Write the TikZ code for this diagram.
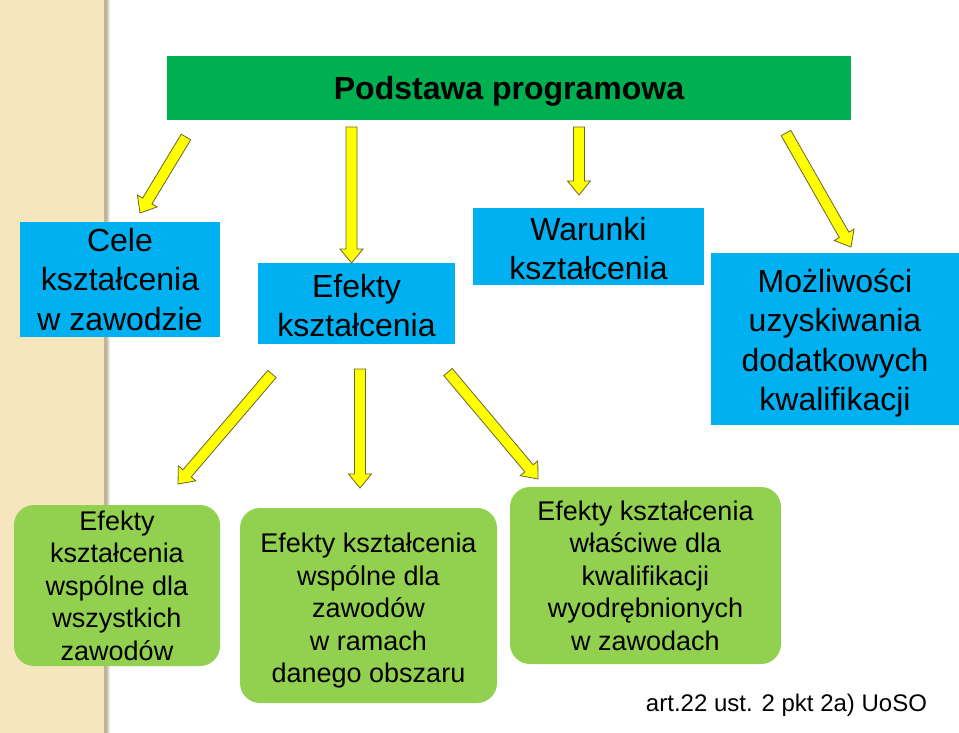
\documentclass[tikz,border=0pt]{standalone}
\usepackage{fontspec}
\setmainfont{Liberation Sans}
\usetikzlibrary{calc}
\definecolor{titlegreen}{RGB}{0,176,80}
\definecolor{boxblue}{RGB}{0,176,240}
\definecolor{boxgreen}{RGB}{146,208,80}
\definecolor{stripcol}{RGB}{246,230,190}
\definecolor{arrowedge}{RGB}{105,100,50}
\definecolor{arrowfill}{RGB}{255,255,0}
\newcommand\blockarrow[2]{%
  \path let \p1=(#1), \p2=(#2), \n1={atan2(\y2-\y1,\x2-\x1)}, \n2={veclen(\x2-\x1,\y2-\y1)} in
    \pgfextra{\pgfmathsetmacro\batmpa{\n1}\global\let\baang\batmpa
              \pgfmathsetmacro\batmpb{\n2}\global\let\balen\batmpb};
  \draw[yarrow, shift={(#1)}, rotate=\baang]
    (0pt,-5.5pt) -- ({\balen pt-14pt},-5.5pt) -- ({\balen pt-14pt},-11.5pt) -- ({\balen pt},0pt)
    -- ({\balen pt-14pt},11.5pt) -- ({\balen pt-14pt},5.5pt) -- (0pt,5.5pt) -- cycle;
}
\newcommand\strutto[1]{\rule{0pt}{#1}}
\tikzset{
  yarrow/.style={fill=arrowfill, draw=arrowedge, line width=0.8pt, line join=miter},
  bluebox/.style={fill=boxblue, inner sep=0pt, align=center, text=black,
    font=\fontsize{32}{39.5}\selectfont},
  greenbox/.style={fill=boxgreen, rounded corners=20pt, inner sep=0pt, align=center, text=black,
    font=\fontsize{27}{32.5}\selectfont},
}
\begin{document}
\begin{tikzpicture}[x=1pt,y=-1pt]
\useasboundingbox (0,0) rectangle (959,733);
\fill[white] (0,0) rectangle (959,733);
% left textured strip
\fill[stripcol] (0,0) rectangle (104,733);
\fill[stripcol!75!black!90] (104,0) rectangle (106.5,733);
\shade[left color=stripcol!60!gray, right color=white] (106.5,0) rectangle (110,733);

% title bar
\node[fill=titlegreen, minimum width=684pt, minimum height=64pt, inner sep=0pt,
  font=\bfseries\fontsize{32}{38}\selectfont, text=black] (title) at (509,88) {\strutto{29.5pt}Podstawa programowa};

% blue boxes
\node[bluebox, minimum width=200pt, minimum height=115pt] (cele) at (120,279.5) {Cele\\kształcenia\\w zawodzie};
\node[bluebox, minimum width=197pt, minimum height=81pt] (efekty) at (356.5,303.5) {\strutto{27.5pt}Efekty\\kształcenia};
\node[bluebox, minimum width=231pt, minimum height=77pt] (warunki) at (588.5,246.5) {\strutto{27.5pt}Warunki\\kształcenia};
\node[bluebox, minimum width=248pt, minimum height=172pt] (mozl) at (835,339) {\strutto{31.5pt}Możliwości\\uzyskiwania\\dodatkowych\\kwalifikacji};

% green boxes
\node[greenbox, minimum width=206pt, minimum height=161pt] (g1) at (117,585.5) {Efekty\\kształcenia\\wspólne dla\\wszystkich\\zawodów};
\node[greenbox, minimum width=257pt, minimum height=195pt] (g2) at (368.5,605.5) {\strutto{30pt}Efekty kształcenia\\wspólne dla\\zawodów\\w ramach\\danego obszaru};
\node[greenbox, minimum width=271pt, minimum height=177pt] (g3) at (645.5,575.5) {Efekty kształcenia\\właściwe dla\\kwalifikacji\\wyodrębnionych\\w zawodach};

% source note
\node[font=\fontsize{24}{28}\selectfont, text=black, inner sep=0pt] (src) at (786.5,705) {art.22 ust. 2 pkt 2a) UoSO};

% arrow end points
\coordinate (a1s) at (186,137); \coordinate (a1e) at (140,213);
\coordinate (a2s) at (351.5,127); \coordinate (a2e) at (351.5,263);
\coordinate (a3s) at (579,127); \coordinate (a3e) at (579,195);
\coordinate (a4s) at (786,133); \coordinate (a4e) at (851,247);
\coordinate (a5s) at (272,374); \coordinate (a5e) at (178,484);
\coordinate (a6s) at (360,369); \coordinate (a6e) at (360,488);
\coordinate (a7s) at (448,372); \coordinate (a7e) at (538,479);

\blockarrow{a1s}{a1e}
\blockarrow{a2s}{a2e}
\blockarrow{a3s}{a3e}
\blockarrow{a4s}{a4e}
\blockarrow{a5s}{a5e}
\blockarrow{a6s}{a6e}
\blockarrow{a7s}{a7e}
\end{tikzpicture}
\end{document}
